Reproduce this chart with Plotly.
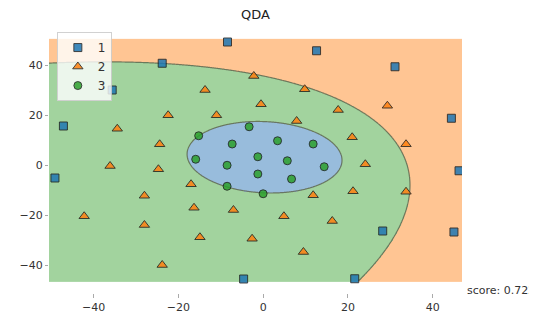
import numpy as np
import plotly.graph_objects as go

# ---------------- data ----------------
class1_x = [-8.4, -23.8, -35.6, -47.1, 12.6, 31.1, 44.4, 46.2, 45.0, 28.2, 21.6, -4.6, -49.1]
class1_y = [49.2, 40.7, 30.0, 15.6, 45.7, 39.3, 18.7, -2.3, -26.8, -26.4, -45.5, -45.6, -5.2]

class2_x = [-2.2, -0.5, -13.7, -22.4, -11.0, -34.4, -24.4,
            9.8, 17.7, 7.9, 29.3, 21.0, 33.7,
            24.1, 11.8, 21.2, 33.7, 4.9, 16.3, 9.5,
            -36.1, -24.7, -17.0, -28.0, -16.3, -7.0, -42.2, -28.0, -14.9, -2.6, -23.8]
class2_y = [35.6, 24.3, 30.0, 19.9, 19.9, 14.5, 8.3,
            30.3, 22.0, 17.6, 23.7, 11.1, 8.3,
            0.3, -12.1, -10.5, -10.7, -20.5, -22.4, -34.8,
            -0.4, -1.7, -7.7, -12.3, -17.1, -18.0, -20.5, -24.0, -28.9, -29.5, -40.0]

class3_x = [-3.3, -15.2, -7.3, 3.4, 11.8, -15.9, -1.25, 5.7, -8.5, 14.4, -1.25, 6.7, -8.5, 0.0]
class3_y = [15.3, 11.7, 8.4, 9.7, 8.4, 2.3, 3.3, 1.7, -0.1, -0.7, -3.6, -5.6, -8.5, -11.5]

class_labels = ["1", "2", "3"]

# decision boundaries (green/orange and blue/green)
outer_bx = [-50.3, -24.0, -10.2, -2.3, 9.8, 17.3, 22.8, 26.0, 32.7, 34.0, 33.5, 30.7, 26.0, 22.4]
outer_by = [40.7, 40.9, 38.3, 36.4, 31.3, 26.7, 21.3, 18.0, 8.0, -4.7, -16.7, -30.0, -40.7, -46.0]
inner_bx = [-17.3, -14.1, -1.6, 11.0, 18.5, 13.4, 0.0, -12.6]
inner_by = [4.7, 13.3, 17.3, 14.0, 2.0, -8.0, -10.7, -6.7]

tick_values = [-40, -20, 0, 20, 40]
title_text = "QDA"
score_text = "score: 0.7222222222222222"

# ---------------- decision surface ----------------
MESH_X = (-50.5, 46.9)
MESH_Y = (-46.4, 50.3)


def fit_conic(bx, by):
    bx = np.asarray(bx, float)
    by = np.asarray(by, float)
    M = np.column_stack([bx**2, bx * by, by**2, bx, by])
    p, *_ = np.linalg.lstsq(M, np.ones_like(bx), rcond=None)
    return p


def eval_conic(p, X, Y):
    return p[0] * X**2 + p[1] * X * Y + p[2] * Y**2 + p[3] * X + p[4] * Y - 1.0


gx = np.linspace(MESH_X[0], MESH_X[1], 520)
gy = np.linspace(MESH_Y[0], MESH_Y[1], 320)
GX, GY = np.meshgrid(gx, gy)

p_out = fit_conic(outer_bx, outer_by)
p_in = fit_conic(inner_bx, inner_by)
f_out = eval_conic(p_out, GX, GY)
f_in = eval_conic(p_in, GX, GY)

zone = np.zeros_like(GX)
zone[f_out < 0] = 1
zone[f_in < 0] = 2

c_orange = "rgb(255,197,147)"
c_green = "rgb(162,211,158)"
c_blue = "rgb(152,188,220)"
edge = "rgba(95,105,80,0.85)"

fig = go.Figure()
fig.add_trace(go.Heatmap(
    x=gx, y=gy, z=zone, zmin=0, zmax=2,
    colorscale=[[0, c_orange], [0.5, c_green], [1, c_blue]],
    showscale=False, hoverinfo="skip", zsmooth=False, showlegend=False,
))
for f in (f_out, f_in):
    fig.add_trace(go.Contour(
        x=gx, y=gy, z=f,
        contours=dict(start=0, end=0, size=1, coloring="lines"),
        colorscale=[[0, edge], [1, edge]],
        line=dict(width=1.2), showscale=False, hoverinfo="skip", showlegend=False,
    ))

mk_line = dict(color="rgba(20,20,20,0.9)", width=1)
fig.add_trace(go.Scatter(
    x=class1_x, y=class1_y, mode="markers", name=class_labels[0],
    marker=dict(symbol="square", size=8, color="#1f77b4", line=mk_line, opacity=0.85),
))
fig.add_trace(go.Scatter(
    x=class2_x, y=class2_y, mode="markers", name=class_labels[1],
    marker=dict(symbol="triangle-up", size=9, color="#ff7f0e", line=mk_line, opacity=0.85),
))
fig.add_trace(go.Scatter(
    x=class3_x, y=class3_y, mode="markers", name=class_labels[2],
    marker=dict(symbol="circle", size=8, color="#2ca02c", line=mk_line, opacity=0.85),
))

axis_common = dict(
    showgrid=False, zeroline=False, showline=False, automargin=False,
    ticks="outside", tickcolor="#aaaaaa", tickwidth=1,
    tickfont=dict(family="DejaVu Sans", size=11, color="#333333"),
)

# the page body adds an 8px offset, so the figure is 8px smaller and margins compensate
fig.update_layout(
    width=529, height=312,
    margin=dict(l=41, r=75, t=19, b=27),
    paper_bgcolor="white", plot_bgcolor="white",
    font=dict(family="DejaVu Sans", color="#333333"),
    title=dict(text=title_text, xref="paper", x=0.5, xanchor="center",
               yref="container", y=0.978, yanchor="middle",
               font=dict(family="DejaVu Sans", size=13, color="#222222")),
    xaxis=dict(range=list(MESH_X), tickvals=tick_values, ticklen=4, **axis_common),
    yaxis=dict(range=[-51.2, 55.2], tickvals=tick_values, ticklen=3, **axis_common),
    legend=dict(x=0.019, y=0.981, xanchor="left", yanchor="top",
                bgcolor="rgba(255,255,255,0.8)", bordercolor="rgba(204,204,204,0.9)",
                borderwidth=1, font=dict(family="DejaVu Sans", size=12, color="#333333"),
                tracegroupgap=0),
    annotations=[dict(text=score_text, xref="paper", yref="paper", x=1.0075, y=0.008,
                      xanchor="left", yanchor="middle", showarrow=False,
                      font=dict(family="DejaVu Sans", size=11, color="#333333"))],
)

fig.write_html("out.html")
